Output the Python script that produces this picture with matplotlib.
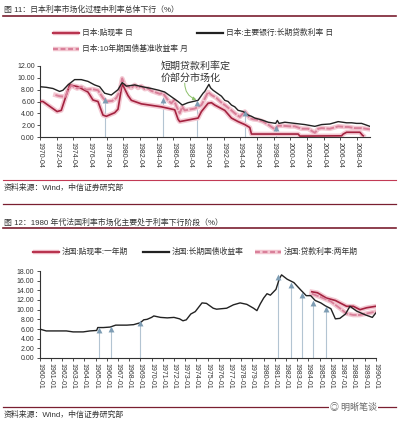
import matplotlib
matplotlib.use("Agg")
import matplotlib.pyplot as plt
import matplotlib.patheffects as pe
from matplotlib.lines import Line2D

plt.rcParams['font.family'] = ['Liberation Sans', 'Noto Sans CJK SC', 'DejaVu Sans']
plt.rcParams['axes.unicode_minus'] = False

# ---- 图11 日本 ----
jp_ticks = list(range(1970, 2009, 2))
jp_tick_labels = [f"{y}-04" for y in jp_ticks]

jp_lend_x = [1970.25, 1971.0, 1971.8, 1972.6, 1973.0, 1973.6, 1974.4, 1975.2, 1976.0, 1976.8,
             1977.4, 1978.0, 1978.8, 1979.6, 1980.1, 1980.6, 1981.6, 1982.5, 1983.6, 1984.5,
             1985.2, 1986.0, 1986.8, 1987.3, 1988.0, 1989.2, 1989.8, 1990.0, 1990.5, 1990.7,
             1991.0, 1991.3, 1991.6, 1992.0, 1992.4, 1992.8, 1993.2, 1993.6, 1994.0, 1994.6,
             1995.2, 1995.6, 1996.0, 1996.8, 1997.6, 1998.5, 1998.7, 1998.9, 1999.6, 2000.8,
             2002.0, 2003.2, 2004.0, 2005.0, 2006.0, 2006.5, 2007.0, 2007.6, 2008.2, 2008.8, 2009.8]
jp_lend = [8.5, 8.4, 8.2, 7.7, 7.9, 8.8, 9.7, 9.7, 9.4, 8.8,
           8.5, 7.4, 7.1, 8.0, 9.2, 8.6, 8.8, 8.5, 8.2, 7.9,
           7.6, 6.8, 6.0, 5.4, 5.8, 6.2, 7.4, 7.7, 8.9, 8.3,
           7.9, 7.6, 7.3, 6.9, 6.2, 6.0, 5.4, 5.1, 4.5, 4.3,
           3.7, 3.5, 3.2, 2.9, 2.5, 2.3, 2.8, 2.3, 2.5, 2.3,
           2.1, 1.8, 2.1, 2.2, 2.6, 2.5, 2.4, 2.4, 2.3, 2.3, 1.8]

jp_disc_x = [1970.25, 1970.6, 1972.3, 1972.8, 1973.8, 1974.8, 1976.0, 1976.6, 1977.2, 1977.8,
             1978.2, 1979.2, 1979.6, 1980.1, 1980.8, 1981.2, 1982.4, 1984.8, 1986.4, 1986.8,
             1987.0, 1989.2, 1989.6, 1990.4, 1990.8, 1991.2, 1992.4, 1993.2, 1994.0, 1994.8,
             1995.4, 1995.6, 2001.2, 2001.4, 2006.4, 2006.6, 2007.0, 2008.6, 2008.9, 2009.0]
jp_disc = [6.0, 6.0, 4.3, 4.5, 8.8, 8.5, 7.6, 6.25, 6.0, 3.7,
           3.5, 4.1, 4.7, 9.0, 7.0, 6.2, 5.6, 5.1, 4.6, 3.0,
           2.6, 3.2, 4.3, 5.7, 5.8, 5.4, 4.5, 3.2, 2.6, 2.1,
           1.6, 0.5, 0.5, 0.15, 0.2, 0.5, 0.8, 0.8, 0.3, 0.2]

jp_bond_x = [1972.1, 1972.6, 1973.3, 1973.6, 1974.0, 1974.7, 1975.2, 1975.8, 1976.5, 1977.2,
             1977.8, 1978.2, 1978.9, 1979.4, 1979.8, 1980.1, 1980.4, 1980.8, 1981.2, 1981.6,
             1982.0, 1982.4, 1982.8, 1983.2, 1983.6, 1984.0, 1984.6, 1985.0, 1985.6, 1986.0,
             1986.3, 1986.6, 1987.0, 1987.3, 1987.6, 1988.0, 1988.8, 1989.6, 1989.9, 1990.4,
             1990.8, 1991.4, 1992.0, 1992.4, 1993.2, 1993.7, 1994.2, 1994.8, 1995.4, 1995.8,
             1996.4, 1997.0, 1997.6, 1998.4, 1998.8, 1999.4, 2000.2, 2000.8, 2001.6, 2002.4,
             2003.2, 2003.6, 2004.0, 2005.0, 2006.0, 2006.8, 2007.2, 2008.0, 2008.8, 2009.8]
jp_bond = [7.1, 6.9, 6.8, 7.9, 8.7, 8.2, 8.5, 8.0, 8.1, 7.9,
           6.6, 6.0, 6.1, 6.6, 7.7, 9.9, 8.8, 8.5, 8.3, 8.8,
           8.3, 8.6, 8.1, 8.2, 7.8, 7.6, 7.3, 7.4, 6.2, 5.7,
           6.2, 5.2, 4.0, 5.1, 4.5, 4.6, 4.8, 5.4, 6.2, 7.6,
           7.1, 6.6, 5.8, 5.4, 4.5, 3.9, 3.4, 4.3, 3.2, 3.0,
           2.9, 2.6, 2.1, 1.3, 1.9, 1.9, 1.8, 1.8, 1.4, 1.4,
           0.7, 1.4, 1.5, 1.4, 1.8, 1.7, 1.7, 1.5, 1.5, 1.3]

jp_mark_x = [1978.0, 1985.0, 1989.1, 1994.8, 1998.6]
jp_mark_y = [6.3, 6.2, 5.7, 4.0, 1.6]

# ---- 图12 法国 ----
fr_ticks = list(range(1960, 1991))
fr_tick_labels = [f"{y}-01" for y in fr_ticks]

fr_gov_x = [1960.0, 1960.6, 1961.8, 1962.4, 1963.0, 1963.9, 1964.5, 1965.1, 1965.2, 1965.7,
            1966.3, 1966.8, 1967.8, 1968.4, 1969.0, 1969.3, 1969.6, 1970.0, 1970.2, 1970.8,
            1971.4, 1972.0, 1972.5, 1972.8, 1973.1, 1973.5, 1973.9, 1974.2, 1974.5, 1974.9,
            1975.5, 1975.8, 1976.7, 1977.3, 1977.9, 1978.5, 1979.1, 1979.4, 1979.7, 1980.0,
            1980.3, 1980.6, 1981.1, 1981.4, 1981.6, 1982.1, 1982.7, 1983.3, 1983.8, 1984.2,
            1984.6, 1985.1, 1985.5, 1986.0, 1986.4, 1986.8, 1987.3, 1987.7, 1988.3, 1989.1,
            1989.7, 1990.0]
fr_gov = [6.0, 5.6, 5.6, 5.6, 5.4, 5.4, 5.6, 5.7, 6.3, 6.3,
          6.4, 6.8, 6.8, 6.9, 7.3, 7.9, 8.0, 8.4, 8.7, 8.4,
          8.3, 8.4, 8.1, 7.7, 7.9, 9.1, 9.6, 10.5, 11.4, 11.3,
          10.3, 10.1, 10.3, 11.0, 11.4, 11.1, 10.3, 9.8, 11.2, 12.4,
          13.3, 13.0, 14.2, 16.4, 17.2, 16.3, 15.6, 14.1, 12.9, 12.9,
          11.9, 11.4, 10.8, 10.2, 8.1, 8.2, 9.1, 10.7, 9.7, 8.9,
          8.4, 9.3]

fr_disc_x = [1984.3, 1984.8, 1985.6, 1986.4, 1987.4, 1988.0, 1988.6, 1989.2, 1990.0]
fr_disc = [13.7, 13.5, 12.4, 11.9, 10.7, 10.7, 10.0, 10.4, 10.7]

fr_loan_x = [1984.3, 1985.1, 1986.0, 1986.8, 1987.4, 1988.0, 1988.6, 1989.2, 1990.0]
fr_loan = [13.3, 12.6, 11.7, 10.3, 9.2, 8.9, 8.9, 9.2, 9.6]

fr_mark_x = [1965.3, 1966.4, 1969.0, 1981.3, 1982.4, 1983.4, 1984.4, 1985.6]
fr_mark_y = [5.8, 6.1, 7.2, 16.7, 15.2, 13.0, 11.4, 10.1]

RED = '#a3223f'
RED2 = '#b8344f'
PINK = '#d9809a'
GLOW = '#f3c8d2'
BLACK = '#222222'
MARK = '#7e9db4'
VLINE = '#b3c4d2'
RULE = '#7a1f30'
DASH = (0, (4, 0.8))

W, H = 398, 426
fig = plt.figure(figsize=(W / 100, H / 100), dpi=100)
fig.patch.set_facecolor('white')


def fx(px):
    return px / W


def fy(py):
    return 1 - py / H


def hrule(py, color=RULE, lw=1.0, x0=3, x1=396):
    fig.add_artist(Line2D([fx(x0), fx(x1)], [fy(py), fy(py)], color=color, lw=lw))


def leg(x0, py, label, color, ls='-', glow=False):
    if glow:
        fig.add_artist(Line2D([fx(x0), fx(x0 + 26)], [fy(py), fy(py)], color=GLOW, lw=3.2,
                              solid_capstyle='butt'))
    fig.add_artist(Line2D([fx(x0), fx(x0 + 26)], [fy(py), fy(py)], color=color, lw=1.6, ls=ls))
    fig.text(fx(x0 + 29), fy(py), label, fontsize=5.6, va='center', ha='left', color='#333333')


def style_axes(ax, ticks, labels, xlim, ymax):
    ax.set_xlim(*xlim)
    ax.set_ylim(0, ymax)
    ax.set_yticks(range(0, ymax + 1, 2))
    ax.set_yticklabels([f"{v:.2f}" for v in range(0, ymax + 1, 2)])
    ax.set_xticks(ticks)
    ax.set_xticklabels(labels, rotation=-90, ha='center', va='top')
    for s in ['top', 'right']:
        ax.spines[s].set_visible(False)
    for s in ['left', 'bottom']:
        ax.spines[s].set_color('#333333')
        ax.spines[s].set_linewidth(0.8)
    ax.tick_params(axis='both', labelsize=5, length=2.2, width=0.6, pad=1.5, colors='#333333')
    ax.set_facecolor('none')


def glow_line(ax, x, y, color, ls='-', lw=1.2):
    ax.plot(x, y, color=GLOW, lw=3.4, zorder=2, solid_joinstyle='round')
    ax.plot(x, y, color=color, lw=lw, ls=ls, zorder=3)


# ---------- chart 1 ----------
fig.text(fx(4), fy(10), '图 11：日本利率市场化过程中利率总体下行（%）', fontsize=5.7,
         va='center', ha='left', color='#333333')
hrule(16, lw=1.2)
leg(53, 33, '日本:贴现率 日', RED2, glow=True)
leg(197, 33, '日本:主要银行:长期贷款利率 日', BLACK)
leg(53, 49, '日本:10年期国债基准收益率 月', PINK, ls=(0, (2.2, 1.2)), glow=True)

ax1 = fig.add_axes([fx(40), fy(137), fx(330), (137 - 66) / H])
jp_x0 = 1970.25
jp_x1 = jp_x0 + 330 * (38 / 317)
style_axes(ax1, [t + 0.25 for t in jp_ticks], jp_tick_labels, (jp_x0, jp_x1), 12)

ax1.vlines(jp_mark_x, 0, jp_mark_y, color=VLINE, lw=0.8, zorder=1)
glow_line(ax1, jp_disc_x, jp_disc, RED)
glow_line(ax1, jp_bond_x, jp_bond, PINK, ls=DASH, lw=1.4)
ax1.plot(jp_lend_x, jp_lend, color=BLACK, lw=1.0, zorder=4)
ax1.scatter(jp_mark_x, jp_mark_y, marker='^', s=18, color=MARK, zorder=5, linewidths=0)

ax1.text(1984.7, 12.8, '短期贷款利率定\n价部分市场化', fontsize=7.2, va='top', ha='left',
         color='#333333', linespacing=1.2, clip_on=False)
ax1.annotate('', xy=(1989.0, 6.3), xytext=(1987.6, 9.1), annotation_clip=False,
             arrowprops=dict(arrowstyle='-|>', color='#8cc06a', lw=0.7, mutation_scale=5,
                             shrinkA=0, shrinkB=0, connectionstyle='arc3,rad=0.35'))

hrule(180, color='#c23a55', lw=0.8)
fig.text(fx(4), fy(188), '资料来源：Wind，中信证券研究部', fontsize=5.7, va='center',
         ha='left', color='#333333')
hrule(204, lw=0.9)

# ---------- chart 2 ----------
fig.text(fx(4), fy(223), '图 12：1980 年代法国利率市场化主要处于利率下行阶段（%）', fontsize=5.7,
         va='center', ha='left', color='#333333')
hrule(228, lw=1.2)
leg(33, 252, '法国:贴现率:一年期', RED2, glow=True)
leg(143, 252, '法国:长期国债收益率', BLACK)
leg(255, 252, '法国:贷款利率:两年期', PINK, ls=(0, (2.2, 1.2)), glow=True)

ax2 = fig.add_axes([fx(39.5), fy(358), fx(336.5), (358 - 271) / H])
style_axes(ax2, fr_ticks, fr_tick_labels, (1960, 1960 + 336.5 / 11.207), 18)

ax2.vlines(fr_mark_x, 0, fr_mark_y, color=VLINE, lw=0.8, zorder=1)
glow_line(ax2, fr_disc_x, fr_disc, RED)
glow_line(ax2, fr_loan_x, fr_loan, PINK, ls=DASH, lw=1.3)
ax2.plot(fr_gov_x, fr_gov, color=BLACK, lw=1.0, zorder=4)
ax2.scatter(fr_mark_x, fr_mark_y, marker='^', s=18, color=MARK, zorder=5, linewidths=0)

hrule(407, lw=0.9)
fig.text(fx(4), fy(415), '资料来源：Wind，中信证券研究部', fontsize=5.7, va='center',
         ha='left', color='#333333')
fig.text(fx(330), fy(407), '◎ 明晰笔谈', fontsize=6.5, va='center', ha='left', color='#666666',
         family=['Noto Sans CJK SC', 'DejaVu Sans'],
         bbox=dict(facecolor='white', edgecolor='none', pad=0.5))

fig.savefig('out.png', dpi=100, facecolor='white')
